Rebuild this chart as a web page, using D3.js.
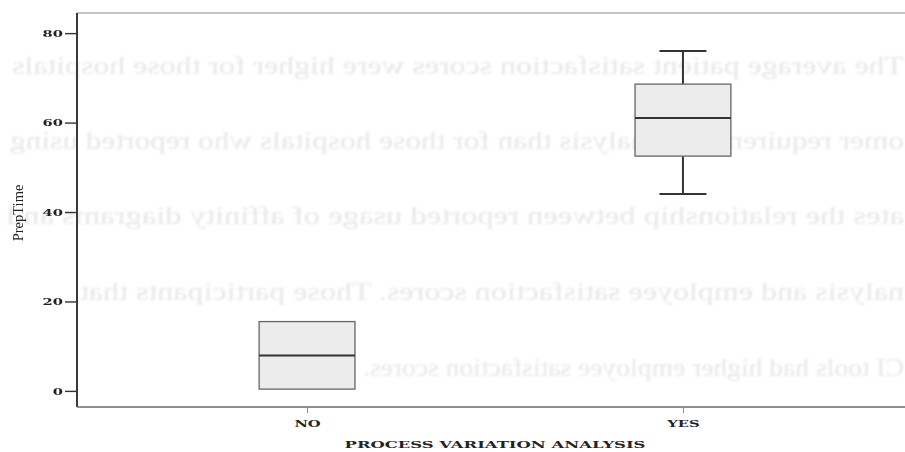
<!DOCTYPE html>
<html><head><meta charset="utf-8">
<script src="https://cdn.jsdelivr.net/npm/d3@7"></script>
<style>html,body{margin:0;padding:0;background:#fff;} svg{display:block}</style>
</head><body>
<svg id="chart" width="905" height="452"></svg>
<script>
// Prep time by use of process variation analysis: box-and-whisker summary per group
const categories  = ["NO", "YES"];
const whiskerLow  = [0.4, 44.0];
const quartile1   = [0.4, 52.5];
const medians     = [7.9, 61.0];
const quartile3   = [15.5, 68.6];
const whiskerHigh = [15.5, 76.0];
const yTicks = [0, 20, 40, 60, 80];
const yTitle = "PrepTime";
const xTitle = "PROCESS VARIATION ANALYSIS";
// Printed text from the reverse side of the sheet, showing through mirrored
const reverseLines = [
  "The average patient satisfaction scores were higher for those hospitals",
  "omer requirements analysis than for those hospitals who reported using",
  "ates the relationship between reported usage of affinity diagrams and",
  "nalysis and employee satisfaction scores. Those participants that",
  "CI tools had higher employee satisfaction scores."
];

const W = 905, H = 452;
const svg = d3.select("#chart");
const frame = { left: 77, top: 13, right: 905, bottom: 407 };
const labelFont = "'DejaVu Serif', serif";
const stretch = 1.55;

// --- show-through text (mirrored, faint) ---
const defs = svg.append("defs");
defs.append("filter").attr("id", "soft")
  .append("feGaussianBlur").attr("stdDeviation", 1.2);
const ghostLayout = [
  { base: 74,  right: 904, left: 12 },
  { base: 149, right: 904, left: 10 },
  { base: 224, right: 904, left: 7 },
  { base: 300, right: 904, left: 80 },
  { base: 376, right: 904, left: 363 }
];
svg.append("g").attr("filter", "url(#soft)")
  .selectAll("text").data(reverseLines).join("text")
  .attr("transform", (d, i) => `translate(${ghostLayout[i].right},${ghostLayout[i].base}) scale(-1,1)`)
  .attr("x", 0).attr("y", 0)
  .attr("textLength", (d, i) => ghostLayout[i].right - ghostLayout[i].left)
  .attr("lengthAdjust", "spacingAndGlyphs")
  .attr("font-family", "'Liberation Serif', 'Times New Roman', serif")
  .attr("font-size", 25)
  .attr("fill", "#e7e7e7")
  .text(d => d);

// --- scales ---
const y = d3.scaleLinear().domain([-3.6, 84.5]).range([frame.bottom, frame.top]);
const x = d3.scalePoint().domain(categories).range([frame.left, 913]).padding(0.612);
const boxW = x.step() * 0.255;
const capW = boxW * 0.49;

// --- top frame line ---
svg.append("line")
  .attr("x1", frame.left).attr("x2", frame.right)
  .attr("y1", frame.top).attr("y2", frame.top)
  .attr("stroke", "#8a8a8a").attr("stroke-width", 1);

// --- y axis ---
const yAxis = svg.append("g")
  .attr("transform", `translate(${frame.left},0)`)
  .call(d3.axisLeft(y).tickValues(yTicks).tickSize(12).tickPadding(2).tickFormat(d3.format("d")));
yAxis.select(".domain")
  .attr("d", `M0,${frame.top}V${frame.bottom}`)
  .attr("stroke", "#3a3a3a").attr("stroke-width", 2);
yAxis.selectAll(".tick line").attr("stroke", "#333").attr("stroke-width", 1.4);
yAxis.selectAll(".tick text")
  .attr("x", 0).attr("dy", "0.34em")
  .attr("transform", `translate(-14,0) scale(${stretch},1)`)
  .attr("font-family", labelFont).attr("font-weight", "bold")
  .attr("font-size", 9.5).attr("fill", "#222");

// --- x axis ---
const xAxis = svg.append("g")
  .attr("transform", `translate(0,${frame.bottom})`)
  .call(d3.axisBottom(x).tickSize(6).tickPadding(0));
xAxis.select(".domain")
  .attr("d", `M${frame.left},0H${frame.right}`)
  .attr("stroke", "#6a6a6a").attr("stroke-width", 1.6);
xAxis.selectAll(".tick line").attr("stroke", "#888").attr("stroke-width", 1);
xAxis.selectAll(".tick text")
  .attr("y", 0).attr("dy", 0)
  .attr("transform", `translate(0,20) scale(${stretch},1)`)
  .attr("font-family", labelFont).attr("font-weight", "bold")
  .attr("font-size", 9.5).attr("fill", "#222");

// --- axis titles ---
const midX = (x(categories[0]) + x(categories[categories.length - 1])) / 2;
svg.append("text")
  .attr("transform", `translate(${midX},448) scale(1.64,1)`)
  .attr("text-anchor", "middle")
  .attr("font-family", labelFont).attr("font-weight", "bold")
  .attr("font-size", 10).attr("fill", "#222")
  .text(xTitle);
svg.append("text")
  .attr("transform", "translate(23,213) rotate(-90)")
  .attr("text-anchor", "middle")
  .attr("font-family", "'Liberation Serif', 'Times New Roman', serif")
  .attr("font-size", 14.5).attr("fill", "#222")
  .text(yTitle);

// --- boxes ---
const stats = categories.map((c, i) => ({
  c, lo: whiskerLow[i], q1: quartile1[i], med: medians[i], q3: quartile3[i], hi: whiskerHigh[i]
}));
const g = svg.append("g").selectAll("g").data(stats).join("g")
  .attr("transform", d => `translate(${x(d.c)},0)`);

// whiskers and caps, only where they reach beyond the box
g.filter(d => d.hi > d.q3).append("line")
  .attr("x1", 0).attr("x2", 0).attr("y1", d => y(d.hi)).attr("y2", d => y(d.q3))
  .attr("stroke", "#333").attr("stroke-width", 2);
g.filter(d => d.lo < d.q1).append("line")
  .attr("x1", 0).attr("x2", 0).attr("y1", d => y(d.q1)).attr("y2", d => y(d.lo))
  .attr("stroke", "#333").attr("stroke-width", 2);
g.filter(d => d.hi > d.q3).append("line")
  .attr("x1", -capW / 2).attr("x2", capW / 2).attr("y1", d => y(d.hi)).attr("y2", d => y(d.hi))
  .attr("stroke", "#333").attr("stroke-width", 2);
g.filter(d => d.lo < d.q1).append("line")
  .attr("x1", -capW / 2).attr("x2", capW / 2).attr("y1", d => y(d.lo)).attr("y2", d => y(d.lo))
  .attr("stroke", "#333").attr("stroke-width", 2);

g.append("rect")
  .attr("x", -boxW / 2).attr("width", boxW)
  .attr("y", d => y(d.q3)).attr("height", d => y(d.q1) - y(d.q3))
  .attr("fill", "#ececec").attr("stroke", "#666").attr("stroke-width", 1.3);
g.append("line")
  .attr("x1", -boxW / 2).attr("x2", boxW / 2)
  .attr("y1", d => y(d.med)).attr("y2", d => y(d.med))
  .attr("stroke", "#333").attr("stroke-width", 2);
</script>
</body></html>
